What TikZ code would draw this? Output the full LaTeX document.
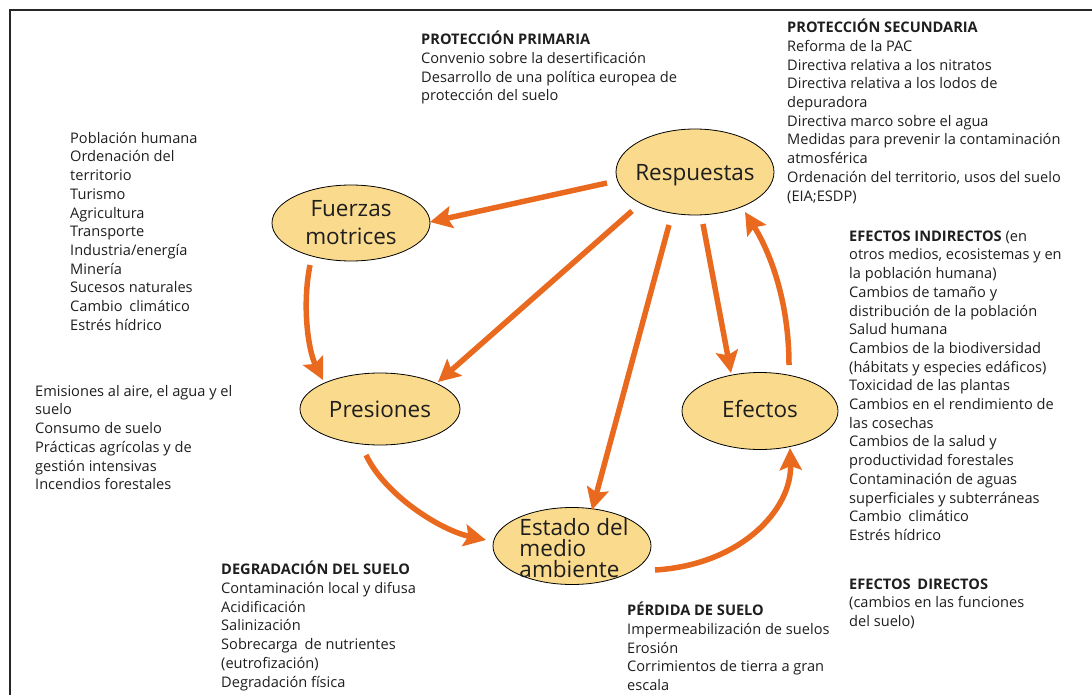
\documentclass[tikz,border=0pt]{standalone}
\usepackage{fontspec}
\setmainfont{Open Sans}
\usetikzlibrary{arrows.meta,calc,shapes.geometric}
\definecolor{arr}{RGB}{233,106,30}
\definecolor{ellfill}{RGB}{250,218,140}
\definecolor{ink}{RGB}{30,30,30}
\begin{document}
\begin{tikzpicture}[x=1pt,y=-1pt,
  ell/.style={ellipse, draw=black, line width=0.8pt, fill=ellfill, inner sep=0pt},
  etxt/.style={inner sep=0pt, align=center, text=ink, font=\fontsize{22.5}{28}\selectfont},
  txt/.style={anchor=north west, inner sep=0pt, align=left, text=ink, font=\fontsize{14.6}{18.7}\selectfont},
  flow/.style={draw=arr, line width=5.5pt, -{Stealth[length=22pt,width=22pt,inset=4pt]}},
]
\useasboundingbox (0,0) rectangle (1092,695);
\draw[line width=1.5pt, black!85] (10,695) -- (10,10) -- (1092,10);

% ellipses
\node[ell, minimum width=158pt, minimum height=86pt] (resp) at (695,172) {};
\node[etxt] (resp-t) at ($(resp.center)+(0,3)$) {Respuestas};
\node[ell, minimum width=158pt, minimum height=76pt] (fuer) at (351,223) {};
\node[etxt] (fuer-t) at (fuer.center) {Fuerzas\\motrices};
\node[ell, minimum width=160pt, minimum height=72pt] (pres) at (380,409) {};
\node[etxt] (pres-t) at (pres.center) {Presiones};
\node[ell, minimum width=156pt, minimum height=77pt] (efec) at (760,411) {};
\node[etxt] (efec-t) at ($(efec.center)+(0,-2)$) {Efectos};
\node[ell, minimum width=158pt, minimum height=77pt] (est) at (572,546) {};
\node[etxt, align=left, font=\fontsize{22.5}{21}\selectfont] (est-t) at ($(est.center)+(2,2)$) {Estado del\\medio\\ambiente};

% arrows
\draw[flow] ($(resp)+(-88,11)$) -- ($(fuer)+(79,-1)$);
\draw[flow] ($(resp)+(-63,39)$) -- ($(pres)+(58,-27)$);
\draw[flow] ($(resp)+(-26,53)$) -- ($(est)+(20,-36)$);
\draw[flow] ($(resp)+(8,52)$) -- ($(efec)+(-29,-38)$);
\draw[flow] ($(efec)+(29,-46)$) .. controls ($(efec)+(29,-110)$) and ($(resp)+(75,80)$) .. ($(resp)+(50,40)$);
\draw[flow] ($(fuer)+(-41,42)$) .. controls ($(fuer)+(-49,82)$) and ($(pres)+(-72,-59)$) .. ($(pres)+(-57,-29)$);
\draw[flow] ($(pres)+(-14,46)$) .. controls ($(pres)+(5,86)$) and ($(est)+(-132,-16)$) .. ($(est)+(-86,-6)$);
\draw[flow] ($(est)+(83,24)$) .. controls ($(est)+(168,19)$) and ($(efec)+(32,99)$) .. ($(efec)+(30,37)$);

% text blocks
\node[txt] (prim) at (421,31) {\strut\textbf{PROTECCIÓN PRIMARIA}\\
Convenio sobre la desertificación\\
Desarrollo de una política europea de\\
protección del suelo};

\node[txt] (sec) at (787,19) {\strut\textbf{PROTECCIÓN SECUNDARIA}\\
Reforma de la PAC\\
Directiva relativa a los nitratos\\
Directiva relativa a los lodos de\\
depuradora\\
Directiva marco sobre el agua\\
Medidas para prevenir la contaminación\\
atmosférica\\
Ordenación del territorio, usos del suelo\\
(EIA;ESDP)};

\node[txt] (drv) at (70,130) {\strut Población humana\\
Ordenación del\\
territorio\\
Turismo\\
Agricultura\\
Transporte\\
Industria/energía\\
Minería\\
Sucesos naturales\\
Cambio\hspace{3pt} climático\\
Estrés hídrico};

\node[txt] (prs) at (35,383) {\strut Emisiones al aire, el agua y el\\
suelo\\
Consumo de suelo\\
Prácticas agrícolas y de\\
gestión intensivas\\
Incendios forestales};

\node[txt] (deg) at (221,561) {\strut\textbf{DEGRADACIÓN DEL SUELO}\\
Contaminación local y difusa\\
Acidificación\\
Salinización\\
Sobrecarga\hspace{3pt} de nutrientes\\
(eutrofización)\\
Degradación física};

\node[txt] (per) at (627,602) {\strut\textbf{PÉRDIDA DE SUELO}\\
Impermeabilización de suelos\\
Erosión\\
Corrimientos de tierra a gran\\
escala};

\node[txt] (ind) at (849,228) {\strut\textbf{EFECTOS INDIRECTOS} (en\\
otros medios, ecosistemas y en\\
la población humana)\\
Cambios de tamaño y\\
distribución de la población\\
Salud humana\\
Cambios de la biodiversidad\\
(hábitats y especies edáficos)\\
Toxicidad de las plantas\\
Cambios en el rendimiento de\\
las cosechas\\
Cambios de la salud y\\
productividad forestales\\
Contaminación de aguas\\
superficiales y subterráneas\\
Cambio\hspace{3pt} climático\\
Estrés hídrico};

\node[txt] (dir) at (849,576) {\strut\textbf{EFECTOS\hspace{3pt} DIRECTOS}\\
(cambios en las funciones\\
del suelo)};
\end{tikzpicture}
\end{document}
